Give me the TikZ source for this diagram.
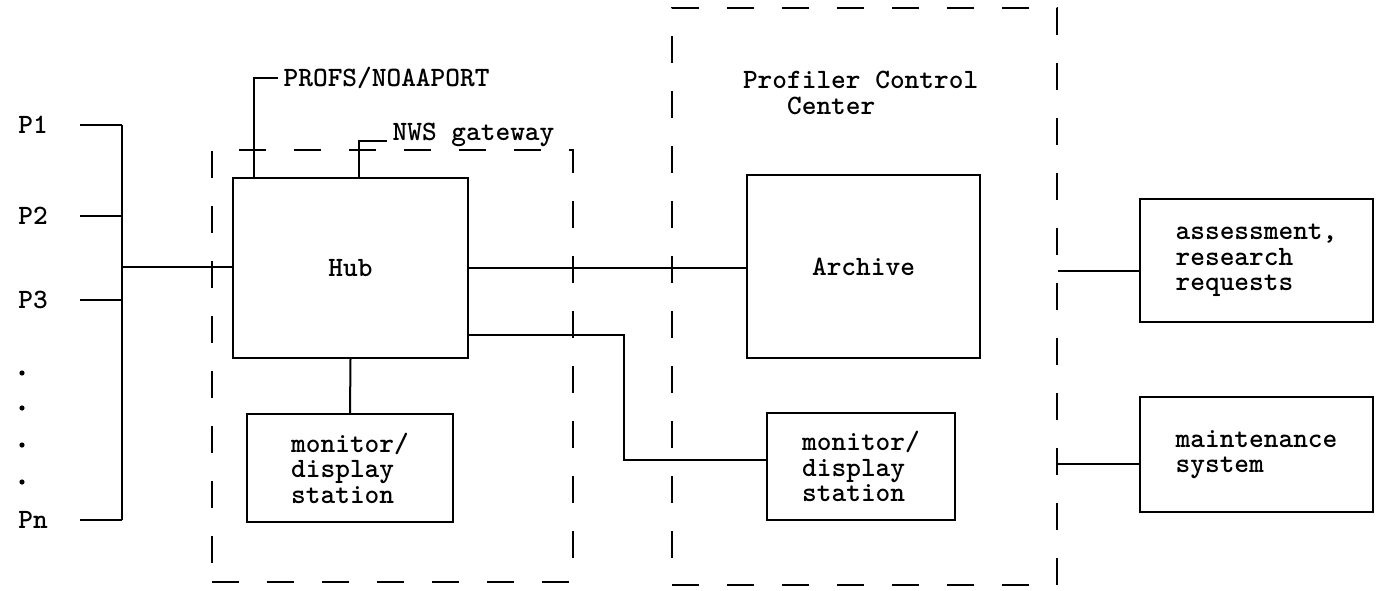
\documentclass[tikz,border=0pt]{standalone}
\usepackage{fontspec}
\begin{document}
\begin{tikzpicture}[x=1pt, y=-1pt, line width=2pt,
  every node/.append style={font=\fontsize{28}{25.5}\selectfont\ttfamily\bfseries},
  box/.style={draw, align=left, inner sep=0pt},
  zone/.style={draw, dash pattern=on 27pt off 28pt}]
  \useasboundingbox (0,0) rectangle (1381,591);
  % dashed areas
  \node[zone, minimum width=361, minimum height=432] (hubzone) at (392.5,366) {};
  \node[zone, minimum width=385, minimum height=577] (pcc) at (864.5,296.5) {};
  \node[anchor=west, align=left, inner sep=0pt] (pcctext) at (742,93)
    {Profiler Control\\\phantom{Pro}Center};
  % boxes
  \node[box, minimum width=235, minimum height=180] (hub) at (350.5,268) {Hub};
  \node[box, minimum width=206, minimum height=108] (mon1) at (350,468) {monitor/\\display\\station};
  \node[box, minimum width=233, minimum height=183] (archive) at (863.5,266.5) {Archive};
  \node[box, minimum width=188, minimum height=107] (mon2) at (861,466.5) {monitor/\\display\\station};
  \node[box, minimum width=233, minimum height=123] (assess) at (1256.5,260.5) {assessment,\\research\\requests};
  \node[box, minimum width=233, minimum height=115] (maint) at (1256.5,454.5) {maintenance\\system};
  % profilers
  \node (p1) at (33,125) {P1};
  \node (p2) at (33,216) {P2};
  \node (p3) at (33,300) {P3};
  \node (pn) at (33,520) {Pn};
  \foreach \y in {373,408,445,482}
    \fill (22,\y) circle (2.6);
  \coordinate (bus) at (122,267);
  \foreach \p in {p1,p2,p3,pn}
    \draw ([xshift=28]\p.east) -- (\p.east -| bus);
  \draw (p1.east -| bus) -- (pn.east -| bus);
  \draw (bus) -- (bus -| hub.west);
  % outside links
  \node[anchor=west, inner sep=0pt] (profs) at (278,78) {\,PROFS/NOAAPORT};
  \node[anchor=base west, inner sep=0pt] (nws) at (387,141) {\,NWS gateway};
  \draw ([xshift=22]hub.north west) |- (profs.west);
  \draw ([xshift=127]hub.north west) |- (nws.base west);
  % connections
  \draw (hub.south) -- (mon1.north);
  \draw (hub.east) -- (hub.east -| archive.west);
  \draw ([yshift=-67]hub.east) -- ++(155,0) |- ([yshift=7]mon2.west);
  \draw ([yshift=-10]assess.west -| pcc.east) -- ([yshift=-10]assess.west);
  \draw ([yshift=-9]maint.west -| pcc.east) -- ([yshift=-9]maint.west);
\end{tikzpicture}
\end{document}
